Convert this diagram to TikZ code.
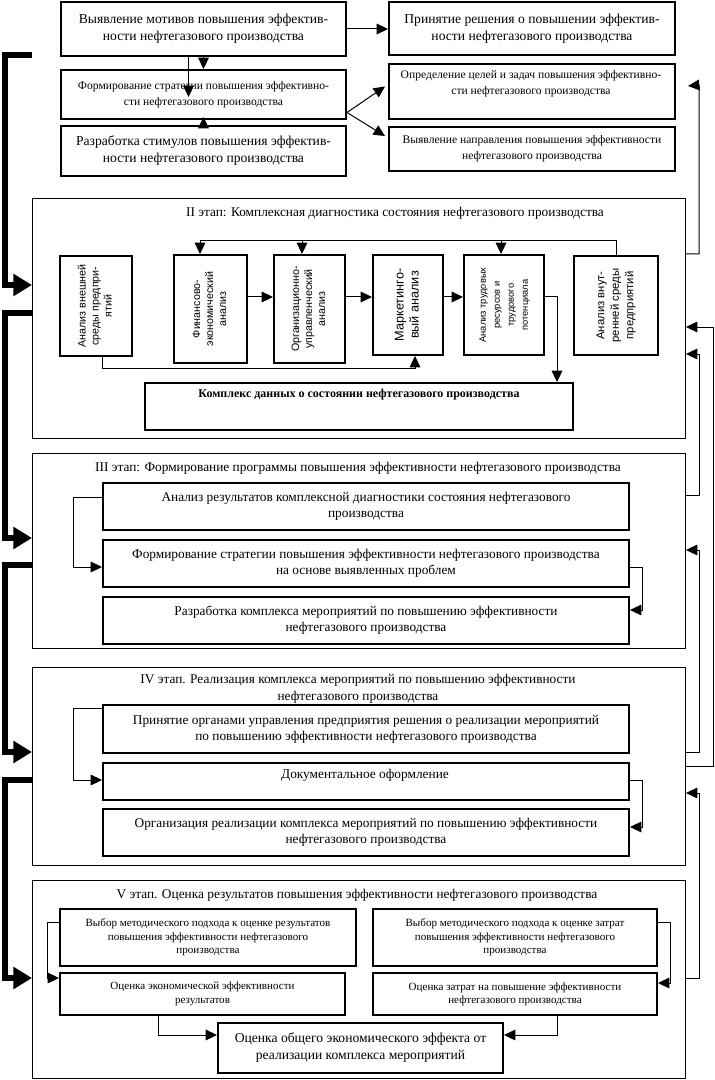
\documentclass[tikz,border=0pt]{standalone}
\usepackage{graphicx}
\usepackage{fontspec}
\setmainfont{Liberation Serif}
\newfontfamily\sansf{Liberation Sans}
\usetikzlibrary{arrows.meta,calc}
\newcommand{\rottext}[1]{\rotatebox{90}{\begin{tabular}{@{}c@{}}#1\end{tabular}}}
\tikzset{
  bx/.style={draw, line width=1.5pt, align=center, anchor=north west, inner sep=1pt},
  stg/.style={draw, line width=0.75pt, anchor=north west, inner sep=0pt},
  sz/.style 2 args={minimum width=#1*0.75pt, minimum height=#2*0.75pt},
  fbig/.style={font=\fontsize{10.2pt}{12.75pt}\selectfont},
  fmid/.style={font=\fontsize{10pt}{12pt}\selectfont},
  fttl/.style={font=\fontsize{10pt}{12.75pt}\selectfont},
  fsm/.style={font=\fontsize{8.7pt}{12pt}\selectfont},
  fxs/.style={font=\fontsize{8.3pt}{10pt}\selectfont},
  fbold/.style={font=\fontsize{9pt}{11pt}\selectfont\bfseries},
  rotA/.style={font=\sansf\fontsize{8pt}{9.75pt}\selectfont},
  rotB/.style={font=\sansf\fontsize{9.5pt}{11.25pt}\selectfont},
  rotC/.style={font=\sansf\fontsize{7pt}{10.5pt}\selectfont},
  rotD/.style={font=\sansf\fontsize{8.5pt}{10.9pt}\selectfont},
  cn/.style={line width=0.75pt},
  arr/.style={cn, -{Triangle[length=8.5pt,width=8pt]}},
  brk/.style={line width=4.5pt, -{Triangle[length=14pt,width=16pt]}},
  txt/.style={inner sep=0pt, align=center}
}
\begin{document}
\begin{tikzpicture}[x=0.75pt,y=-0.75pt]
\useasboundingbox (0,0) rectangle (714,1080);
% ---------- top section ----------
\node[bx,fbig,sz={285}{54}] (A) at (60,1) {Выявление мотивов повышения эффектив-\\ности нефтегазового производства};
\node[bx,fsm,sz={285}{49}] (B) at (60,69) {Формирование стратегии повышения эффективно-\\сти нефтегазового производства};
\node[bx,fbig,sz={285}{50}] (C) at (60,125) {Разработка стимулов повышения эффектив-\\ности нефтегазового производства};
\node[bx,fbig,sz={286}{53}] (D) at (388,1) {Принятие решения о повышении эффектив-\\ности нефтегазового производства};
\node[bx,sz={286}{55}] (E) at (388,63) {};
\node[txt,fsm] (Et) at (531,84) {Определение целей и задач повышения эффективно-\\сти нефтегазового производства};
\node[bx,fsm,sz={286}{44}] (F) at (388,126) {Выявление направления повышения эффективности\\нефтегазового производства};
\draw[arr] (A.east) -- (A.east -| D.west);
\draw[arr] (A.south) -- (B.north);
\draw[arr] ($(A.south)+(-15,0)$) -- ($(A.south)+(-15,40)$);
\draw[arr] (C.north) -- ($(B.south)+(0,-3)$);
\coordinate (fan) at ($(B.east)+(0,18)$);
\draw[arr] (fan) -- ($(E.west)+(-3,-5)$);
\draw[arr] (fan) -- ($(F.west)+(-3,-13)$);
% ---------- stage boxes ----------
\node[stg,sz={653}{240}] (S2) at (32,198) {};
\node[stg,sz={653}{195}] (S3) at (32,453) {};
\node[stg,sz={653}{198}] (S4) at (32,667) {};
\node[stg,sz={653}{198}] (S5) at (32,880) {};
% ---------- stage II ----------
\node[txt,fttl] (T2) at (395,213) {II этап: Комплексная диагностика состояния нефтегазового производства};
\node[bx,rotA,sz={72}{100}] (G1) at (59,255) {\rottext{Анализ внешней\\среды предпри-\\ятий}};
\node[bx,rotA,sz={73}{108}] (G2) at (173,254) {\rottext{Финансово-\\экономический\\анализ}};
\node[bx,rotA,sz={71}{108}] (G3) at (273,254) {\rottext{Организационно-\\управленческий\\анализ}};
\node[bx,rotB,sz={70}{100}] (G4) at (372,254) {\rottext{Маркетинго-\\вый анализ}};
\node[bx,rotC,sz={80}{100}] (G5) at (463,254) {\rottext{Анализ трудовых\\ресурсов и\\трудового\\потенциала}};
\node[bx,rotD,sz={84}{99}] (G6) at (573,255) {\rottext{Анализ внут-\\ренней среды\\предприятий}};
\node[bx,sz={428}{47}] (KD) at (144,382) {};
\node[txt,fbold] (KDt) at (359,395) {Комплекс данных о состоянии нефтегазового производства};
\coordinate (fb) at (200,241);
\draw[cn] (G6.north) -- (G6.north |- fb) -- (fb);
\draw[arr] (fb) -- (G2.north -| fb);
\draw[arr] (302,241) -- (G3.north -| 302,0);
\draw[arr] (501,241) -- (G5.north -| 501,0);
\draw[arr] (G2.east |- 0,297) -- (G3.west |- 0,297);
\draw[arr] (G3.east |- 0,297) -- (G4.west |- 0,297);
\draw[arr] (G4.east |- 0,297) -- (G5.west |- 0,297);
\draw[arr] (G1.south -| 102,0) -- (102,368) -- (415,368) -- (G4.south -| 415,0);
\draw[arr] (G5.east |- 0,297) -- (557,297) -- (KD.north -| 557,0);
% ---------- stage III ----------
\node[txt,fttl] (T3) at (358,468) {III этап: Формирование программы повышения эффективности нефтегазового производства};
\node[bx,fmid,sz={526}{47}] (H1) at (102,482) {Анализ результатов комплексной диагностики состояния нефтегазового\\производства};
\node[bx,fmid,sz={526}{47}] (H2) at (102,539) {Формирование стратегии повышения эффективности нефтегазового производства\\на основе выявленных проблем};
\node[bx,fmid,sz={526}{47}] (H3) at (102,596) {Разработка комплекса мероприятий по повышению эффективности\\нефтегазового производства};
\draw[arr] (H1.west |- 0,497) -- (73,497) -- (73,567) -- (H2.west |- 0,567);
\draw[arr] (H2.east |- 0,567) -- (642,567) -- (642,610) -- (H3.east |- 0,610);
% ---------- stage IV ----------
\node[txt,fttl] (T4) at (358,689) {IV этап. Реализация комплекса мероприятий по повышению эффективности\\нефтегазового производства};
\node[bx,fmid,sz={526}{48}] (K1) at (102,704) {Принятие органами управления предприятия решения о реализации мероприятий\\по повышению эффективности нефтегазового производства};
\node[bx,sz={526}{37}] (K2) at (102,762) {};
\node[txt,fmid] (K2t) at (365,775) {Документальное оформление};
\node[bx,fmid,sz={526}{47}] (K3) at (102,808) {Организация реализации комплекса мероприятий по повышению эффективности\\нефтегазового производства};
\draw[arr] (K1.west |- 0,708) -- (73,708) -- (73,780) -- (K2.west |- 0,780);
\draw[arr] (K2.east |- 0,780) -- (642,780) -- (642,827) -- (K3.east |- 0,827);
% ---------- stage V ----------
\node[txt,fttl] (T5) at (357,895) {V этап. Оценка результатов повышения эффективности нефтегазового производства};
\node[bx,fxs,sz={296}{57}] (L1) at (59,908) {Выбор методического подхода к оценке результатов\\повышения эффективности нефтегазового\\производства};
\node[bx,fxs,sz={285}{42}] (L2) at (59,972) {Оценка экономической эффективности\\результатов};
\node[bx,fxs,sz={284}{57}] (R1) at (372,908) {Выбор методического подхода к оценке затрат\\повышения эффективности нефтегазового\\производства};
\node[bx,fxs,sz={284}{42}] (R2) at (372,972) {Оценка затрат на повышение эффективности\\нефтегазового производства};
\node[bx,fbig,sz={285}{50}] (M) at (217,1022) {Оценка общего экономического эффекта от\\реализации комплекса мероприятий};
\draw[arr] (L1.west |- 0,922) -- (47,922) -- (47,978) -- (L2.west |- 0,978);
\draw[arr] (R1.east |- 0,922) -- (670,922) -- (670,983) -- (R2.east |- 0,983);
\draw[arr] (L2.south -| 158,0) -- (158,1035) -- (M.west |- 0,1035);
\draw[arr] (R2.south -| 557,0) -- (557,1035) -- (M.east |- 0,1035);
% ---------- right feedback lines ----------
\draw[arr] (S2.east |- 0,254) -- (699,254) -- (699,85) -- ($(E.east)+(12,-5.5)$);
\draw[arr] (S3.east |- 0,495) -- (699,495) -- (699,354) -- (S2.east |- 0,354);
\draw[arr] (S4.east |- 0,766) -- (713,766) -- (713,327) -- (S2.east |- 0,327);
\draw[arr] (S4.east |- 0,752) -- (699,752) -- (699,550) -- (S3.east |- 0,550);
\draw[arr] (S5.east |- 0,978) -- (699,978) -- (699,793) -- (S4.east |- 0,793);
% ---------- left brackets ----------
\coordinate (b0) at (32,55);
\draw[brk] (b0) -- (5,55) -- (5,285) -- (S2.west |- 0,285);
\draw[brk] (S2.west |- 0,313) -- (5,313) -- (5,538) -- (S3.west |- 0,538);
\draw[brk] (S3.west |- 0,565) -- (5,565) -- (5,752) -- (S4.west |- 0,752);
\draw[brk] (S4.west |- 0,780) -- (5,780) -- (5,978) -- (S5.west |- 0,978);
\end{tikzpicture}
\end{document}
